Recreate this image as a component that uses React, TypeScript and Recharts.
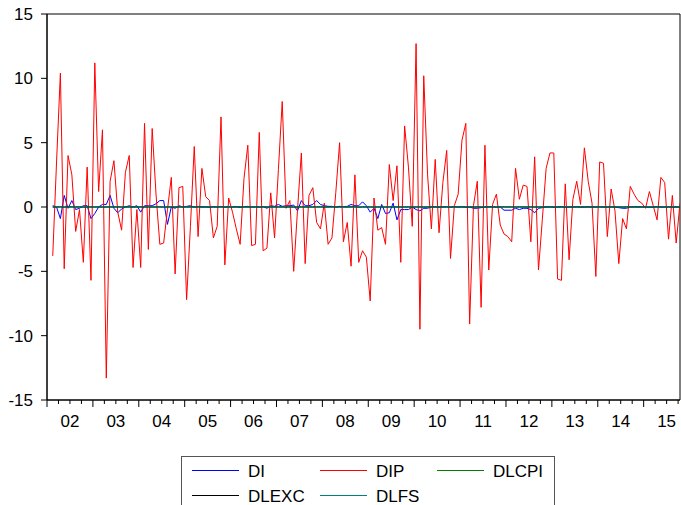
import { LineChart, Line, XAxis, YAxis, Legend, ReferenceArea } from "recharts"

// monthly observations, 2002M02 .. 2015M10
const firstMonth = 1.5 // mid Feb 2002, in months since Jan 2002
const yearLabels = ["02", "03", "04", "05", "06", "07", "08", "09", "10", "11", "12", "13", "14", "15"]
const yTicks = [-15, -10, -5, 0, 5, 10, 15]

const dip = [
  -3.8, 3.5, 10.4, -4.8, 4.0, 2.5, -1.9, -0.2, -4.3, 3.1, -5.7,
  11.2, 1.2, 6.0, -13.3, 2.0, 3.6, -0.4, -1.8, 2.7, 4.0, -4.7, -0.2,
  -4.7, 6.5, -3.3, 6.1, 1.0, -2.9, -2.8, -0.2, 2.3, -5.2, 1.5, 1.6,
  -7.2, -1.5, 4.7, -2.3, 3.0, 0.8, 0.5, -2.4, -1.5, 7.0, -4.5, 0.7,
  -0.4, -1.7, -2.9, 2.2, 4.8, -3.0, -2.9, 5.8, -3.4, -3.2, 1.1, -2.4,
  2.9, 8.2, -0.1, 0.5, -5.0, -0.2, 4.2, -4.4, 0.9, 1.5, -1.2, -1.7,
  0.3, -2.9, -2.4, 1.1, 5.0, -2.7, -1.2, -4.6, 2.5, -4.3, -3.4, -3.9,
  -7.3, 0.7, -1.8, -1.6, -2.9, 3.3, 0.5, 3.2, -4.3, 6.3, 3.1, -1.5,
  12.7, -9.5, 10.2, 2.5, -1.7, 3.7, -2.0, 1.9, 4.4, -4.0, 0.1, 1.0,
  5.2, 6.5, -9.1, 0.1, 2.0, -7.8, 4.8, -4.9, 0.2, 1.0, -1.4, -2.1,
  -2.3, -2.7, 3.0, 0.6, 1.7, 1.6, -2.7, 3.9, -4.9, -1.0, 3.0, 4.2,
  4.2, -5.6, -5.7, 1.8, -4.1, 0.6, 2.0, 0.2, 4.6, 2.0, 0.3, -5.4,
  3.5, 3.4, -2.3, 1.4, -0.3, -4.4, -0.9, -1.7, 1.6, 1.0, 0.5, 0.3,
  -0.1, 1.2, 0.1, -1.0, 2.3, 1.9, -2.5, 0.9, -2.8, 0.3,
]

const di = [
  0.1, 0.0, -0.9, 0.9, -0.1, 0.5, -0.2, -0.1, 0.1, 0.1, -0.9,
  -0.5, 0.0, 0.2, 0.2, 0.9, -0.1, -0.45, -0.15, 0.0, 0.1, 0.0, 0.1,
  -0.4, 0.1, 0.1, 0.1, 0.25, 0.5, 0.5, -1.35, 0.0, -0.1, 0.1, 0.0,
  0.05, 0.1, 0.0, 0.05, 0.0, 0.02, -0.03, 0.04, 0.0, 0.05, -0.02, 0.03,
  0.0, 0.04, -0.03, 0.02, 0.05, 0.0, 0.03, -0.02, 0.04, -0.1, 0.1, 0.05,
  0.2, 0.05, 0.1, 0.1, 0.15, -0.3, 0.5, 0.1, 0.1, 0.2, 0.5, 0.2,
  0.1, 0.05, 0.05, 0.0, 0.05, 0.02, 0.05, 0.2, 0.1, 0.1, 0.4, 0.1,
  -0.4, -0.1, -0.9, 0.2, -0.5, -0.45, 0.3, -1.0, -0.2, -0.2, -0.2, 0.0,
  -0.2, -0.3, -0.1, -0.1, 0.0, 0.03, -0.02, 0.0, 0.04, -0.03, 0.02, 0.0,
  0.03, -0.02, 0.0, -0.1, -0.1, -0.05, 0.0, 0.02, 0.03, -0.02, 0.0, -0.25,
  -0.25, -0.25, -0.1, -0.2, -0.1, -0.1, -0.2, -0.45, -0.1, -0.05, 0.0, 0.02,
  -0.02, 0.0, 0.03, -0.03, 0.01, 0.0, 0.02, -0.02, 0.0, 0.03, -0.01, 0.0,
  0.02, -0.02, 0.0, 0.01, -0.03, -0.05, -0.1, -0.1, 0.0, 0.02, -0.01, 0.0,
  0.01, -0.02, 0.0, 0.02, -0.01, 0.0, 0.01, -0.02, 0.0, 0.01,
]

const dlcpi = [
  0.004, 0.006, 0.003, 0.001, 0.002, 0.005, 0.004, 0.003, 0.002, 0.004, 0.006,
  0.007, 0.005, 0.002, 0.001, 0.003, 0.004, 0.006, 0.003, 0.002, 0.004, 0.005, 0.003,
  0.006, 0.004, 0.003, 0.002, 0.005, 0.006, 0.004, 0.003, 0.004, 0.005, 0.006, 0.004,
  0.008, 0.005, 0.004, 0.003, 0.004, 0.006, 0.005, 0.004, 0.003, 0.005, 0.004, 0.006,
  0.007, 0.004, 0.003, 0.002, 0.004, 0.005, 0.004, 0.003, 0.004, 0.006, 0.005, 0.004,
  0.006, 0.004, 0.005, 0.003, 0.004, 0.006, 0.007, 0.005, 0.004, 0.006, 0.008, 0.007,
  0.009, 0.008, 0.010, 0.009, 0.007, 0.008, 0.006, 0.004, 0.002, 0.000, -0.003, -0.004,
  0.001, 0.002, 0.003, 0.002, 0.003, 0.004, 0.003, 0.002, 0.003, 0.004, 0.005, 0.004,
  0.006, 0.005, 0.004, 0.003, 0.004, 0.005, 0.004, 0.003, 0.004, 0.005, 0.006, 0.005,
  0.007, 0.006, 0.005, 0.004, 0.005, 0.006, 0.005, 0.004, 0.005, 0.006, 0.004, 0.003,
  0.004, 0.003, 0.004, 0.003, 0.002, 0.003, 0.004, 0.003, 0.002, 0.003, 0.004, 0.003,
  0.004, 0.003, 0.002, 0.003, 0.004, 0.003, 0.002, 0.003, 0.002, 0.003, 0.002, 0.001,
  0.002, 0.003, 0.002, 0.001, 0.002, 0.003, 0.002, 0.001, 0.000, 0.001, 0.000, -0.001,
  0.001, 0.002, 0.001, 0.000, 0.001, 0.002, 0.001, 0.000, 0.001, 0.002,
]

const dlexc = [
  0.002, -0.004, 0.010, -0.006, 0.003, 0.008, -0.002, 0.005, -0.007, 0.004, 0.001,
  -0.003, 0.006, -0.009, 0.002, 0.004, -0.001, 0.007, -0.005, 0.003, 0.002, -0.006, 0.004,
  0.001, -0.002, 0.005, -0.004, 0.003, 0.006, -0.008, 0.002, 0.004, -0.003, 0.001, 0.005,
  -0.002, 0.003, -0.006, 0.004, 0.002, -0.001, 0.006, -0.004, 0.003, 0.001, -0.005, 0.002,
  0.004, -0.003, 0.002, 0.006, -0.002, 0.001, -0.004, 0.003, 0.005, -0.001, 0.002, -0.003,
  0.004, 0.001, -0.002, 0.005, -0.006, 0.002, 0.003, -0.001, 0.004, -0.002, 0.006, 0.003,
  -0.004, 0.002, 0.005, -0.003, 0.001, 0.004, -0.008, 0.012, 0.015, -0.010, 0.008, 0.006,
  0.004, -0.005, 0.003, 0.002, -0.004, 0.006, -0.002, 0.003, 0.001, -0.003, 0.004, 0.002,
  -0.001, 0.003, -0.005, 0.004, 0.002, -0.003, 0.001, 0.005, -0.002, 0.003, 0.004, -0.001,
  0.002, -0.004, 0.006, 0.003, -0.002, 0.005, -0.003, 0.001, 0.004, -0.002, 0.003, 0.006,
  -0.001, 0.002, -0.003, 0.004, 0.001, -0.002, 0.005, -0.004, 0.002, 0.003, -0.001, 0.004,
  0.002, -0.003, 0.001, 0.005, -0.002, 0.003, 0.004, -0.001, 0.002, -0.004, 0.003, 0.006,
  0.008, 0.005, -0.002, 0.004, 0.007, 0.010, -0.003, 0.006, 0.009, 0.004, 0.012, 0.008,
  0.005, -0.004, 0.003, 0.007, -0.002, 0.004, 0.002, -0.003, 0.005, 0.001,
]

const dlfs = [
  0.012, -0.008, 0.015, 0.006, -0.010, 0.009, 0.004, -0.006, 0.011, 0.003, -0.005,
  0.014, 0.002, -0.009, 0.010, 0.005, -0.004, 0.008, 0.006, -0.007, 0.012, 0.003, -0.002,
  0.009, -0.006, 0.011, 0.004, -0.003, 0.010, 0.002, -0.008, 0.013, 0.005, -0.004, 0.007,
  0.010, -0.005, 0.006, 0.009, -0.007, 0.008, 0.003, -0.002, 0.011, 0.004, -0.006, 0.009,
  0.013, -0.004, 0.007, 0.005, -0.009, 0.010, 0.006, -0.003, 0.012, 0.002, -0.005, 0.008,
  0.011, -0.007, 0.009, 0.004, -0.002, 0.010, 0.005, -0.006, 0.012, 0.003, -0.004, 0.006,
  0.009, -0.011, 0.007, 0.004, -0.013, 0.008, -0.006, -0.015, 0.010, 0.012, -0.009, 0.014,
  0.016, -0.006, 0.011, 0.007, -0.004, 0.013, 0.005, -0.008, 0.010, 0.006, -0.003, 0.009,
  0.012, -0.005, 0.008, 0.004, -0.007, 0.011, 0.006, -0.002, 0.009, 0.003, -0.006, 0.010,
  0.007, -0.004, 0.012, 0.005, -0.009, 0.008, 0.003, -0.005, 0.010, 0.006, -0.003, 0.009,
  0.011, -0.006, 0.007, 0.004, -0.002, 0.010, 0.005, -0.007, 0.012, 0.002, -0.004, 0.008,
  0.010, -0.005, 0.006, 0.009, -0.003, 0.011, 0.004, -0.006, 0.008, 0.005, -0.002, 0.007,
  0.009, -0.004, 0.006, 0.003, -0.007, 0.010, 0.005, -0.003, 0.008, 0.004, -0.005, 0.006,
  0.009, -0.002, 0.007, 0.004, -0.006, 0.008, 0.003, -0.004, 0.007, 0.005,
]

const data = dip.map((v, i) => ({
  t: firstMonth + i,
  DI: di[i],
  DIP: v,
  DLCPI: dlcpi[i],
  DLEXC: dlexc[i],
  DLFS: dlfs[i],
}))

const lastT = firstMonth + dip.length - 1
const quarterTicks: number[] = []
for (let t = 0; t <= lastT; t += 3) quarterTicks.push(t)

const series = [
  { key: "DI", color: "#0000ff" },
  { key: "DIP", color: "#ff0000" },
  { key: "DLCPI", color: "#008000" },
  { key: "DLEXC", color: "#000000" },
  { key: "DLFS", color: "#008080" },
]

const font = "'Liberation Sans', Arial, sans-serif"

function MonthTick(props: any) {
  const { x, y, payload } = props
  const t = payload.value
  const major = t % 12 === 0
  const label = t % 12 === 6 ? yearLabels[(t - 6) / 12] : null
  return (
    <g>
      <line x1={x} x2={x} y1={y} y2={y + (major ? 7 : 4)} stroke="#000" strokeWidth={1} />
      {label && (
        <text x={x} y={y + 27} textAnchor="middle" fontSize={17} fontFamily={font} fill="#000">
          {label}
        </text>
      )}
    </g>
  )
}

// legend grid: 3 columns, 2 rows
const colLeft = [11, 139, 256]
const rowMid = [14.5, 39.5]

function LegendBox() {
  return (
    <svg width={374} height={62} style={{ display: "block" }}>
      <rect x={0.5} y={0.5} width={373} height={61} fill="#fff" stroke="#555" strokeWidth={1} />
      {series.map((s, i) => {
        const col = i % 3
        const row = Math.floor(i / 3)
        return (
          <g key={s.key}>
            <line
              x1={colLeft[col]}
              x2={colLeft[col] + 47}
              y1={rowMid[row]}
              y2={rowMid[row]}
              stroke={s.color}
              strokeWidth={1}
            />
            <text
              x={colLeft[col] + 56}
              y={rowMid[row] + 6}
              fontSize={17}
              fontFamily={font}
              fill="#000"
            >
              {s.key}
            </text>
          </g>
        )
      })}
    </svg>
  )
}

export default function App() {
  return (
    <div style={{ position: "absolute", left: 0, top: 0, width: 681, height: 505, overflow: "hidden", background: "#fff" }}>
      <LineChart width={681} height={505} data={data} margin={{ top: 14, right: 1, bottom: 75, left: 0 }}>
        <XAxis
          dataKey="t"
          type="number"
          domain={[0, lastT]}
          ticks={quarterTicks}
          interval={0}
          tickLine={false}
          tickSize={0}
          tickMargin={0}
          tick={<MonthTick />}
          axisLine={{ stroke: "#000" }}
          height={30}
          allowDataOverflow
        />
        <YAxis
          type="number"
          domain={[-15, 15]}
          ticks={yTicks}
          interval={0}
          width={47}
          tickSize={6}
          tickMargin={8}
          tickLine={{ stroke: "#000" }}
          axisLine={{ stroke: "#000" }}
          tick={{ fill: "#000", fontSize: 17, fontFamily: font }}
          allowDataOverflow
        />
        {series.map((s) => (
          <Line
            key={s.key}
            type="linear"
            dataKey={s.key}
            stroke={s.color}
            strokeWidth={1}
            dot={false}
            activeDot={false}
            isAnimationActive={false}
          />
        ))}
        <ReferenceArea x1={0} x2={lastT} y1={-15} y2={15} fill="none" stroke="#000" strokeWidth={1} ifOverflow="visible" />
        <Legend
          layout="vertical"
          align="center"
          verticalAlign="middle"
          content={<LegendBox />}
          wrapperStyle={{ left: 181, top: 456, width: 374, height: 62 }}
        />
      </LineChart>
    </div>
  )
}
